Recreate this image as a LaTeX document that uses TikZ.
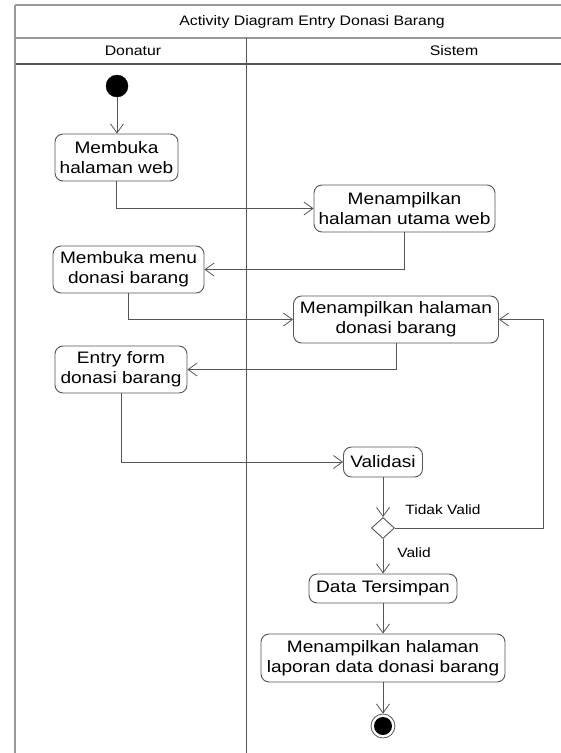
\documentclass[tikz,border=0pt]{standalone}
\usepackage{fontspec}
\setmainfont{Liberation Sans}[FakeStretch=1.15]
\usetikzlibrary{arrows.meta,shapes.geometric}
\definecolor{lineg}{HTML}{555555}
\definecolor{frameg}{HTML}{999999}
\tikzset{
  act/.style={draw=lineg, line width=0.9pt, rounded corners=8pt, align=center, inner sep=2pt,
    font=\fontsize{16.6}{20}\selectfont, text=black},
  flow/.style={draw=lineg, line width=0.8pt, -{Straight Barb[length=9pt,width=13pt,line width=0.8pt]}},
  lbl/.style={font=\fontsize{13.5}{16}\selectfont, text=black},
  hdr/.style={font=\fontsize{13.8}{16}\selectfont, text=black},
}
\begin{document}
\begin{tikzpicture}[x=1pt,y=-1pt]
\useasboundingbox (0,0) rectangle (561,753);
% frame
\draw[frameg, line width=1.6pt] (15,5) -- (561,5);
\draw[frameg, line width=1.6pt] (15,38) -- (561,38);
\draw[lineg, line width=1.2pt] (15,64) -- (561,64);
\draw[frameg, line width=2pt] (15,5) -- (15,753);
\draw[lineg, line width=0.9pt] (246.5,38) -- (246.5,753);
\node[hdr] (title) at (312,21.5) {Activity Diagram Entry Donasi Barang};
\node[hdr] (donatur) at (133,51) {Donatur};
\node[hdr] (sistem) at (454,51) {Sistem};
% nodes
\node[circle, fill=black, draw=black, minimum size=22pt, inner sep=0pt] (start) at (117,86) {};
\node[act, minimum width=123pt, minimum height=47pt] (b1) at (116.5,157.5) {Membuka\\halaman web};
\node[act, minimum width=181pt, minimum height=47pt] (b2) at (404.5,208.5) {Menampilkan\\halaman utama web};
\node[act, minimum width=151pt, minimum height=47pt] (b3) at (128.5,269.5) {Membuka menu\\donasi barang};
\node[act, minimum width=205pt, minimum height=47pt] (b4) at (396,319.5) {Menampilkan halaman\\donasi barang};
\node[act, minimum width=132pt, minimum height=47pt] (b5) at (121,369.5) {Entry form\\donasi barang};
\node[act, minimum width=79pt, minimum height=30pt] (val) at (383,462) {Validasi};
\node[diamond, draw=lineg, line width=0.9pt, fill=white, minimum width=23pt, minimum height=21pt, inner sep=0pt] (dec) at (383,528) {};
\node[act, minimum width=148pt, minimum height=29pt] (dt) at (383,588.5) {Data Tersimpan};
\node[act, minimum width=244pt, minimum height=48pt] (lap) at (383,658) {Menampilkan halaman\\laporan data donasi barang};
\node[circle, draw=lineg, line width=0.8pt, minimum size=24pt, inner sep=0pt] (endo) at (383,726) {};
\node[circle, fill=black, minimum size=18pt, inner sep=0pt] (endi) at (383,726) {};
\coordinate (rt) at (543,528);
% labels
\node[lbl] (tv) at (443,510) {Tidak Valid};
\node[lbl] (vl) at (414,553) {Valid};
% flows
\draw[flow] (start) -- (start |- b1.north);
\draw[flow] (b1.south) |- (b2.west);
\draw[flow] (b2.south) |- (b3.east);
\draw[flow] (b3.south) |- (b4.west);
\draw[flow] (b4.south) |- (b5.east);
\draw[flow] (b5.south) |- (val.west);
\draw[flow] (val) -- (dec);
\draw[flow] (dec.east) -- (rt) |- (b4.east);
\draw[flow] (dec) -- (dt);
\draw[flow] (dt) -- (lap);
\draw[flow] (lap) -- (endo);
\end{tikzpicture}
\end{document}
